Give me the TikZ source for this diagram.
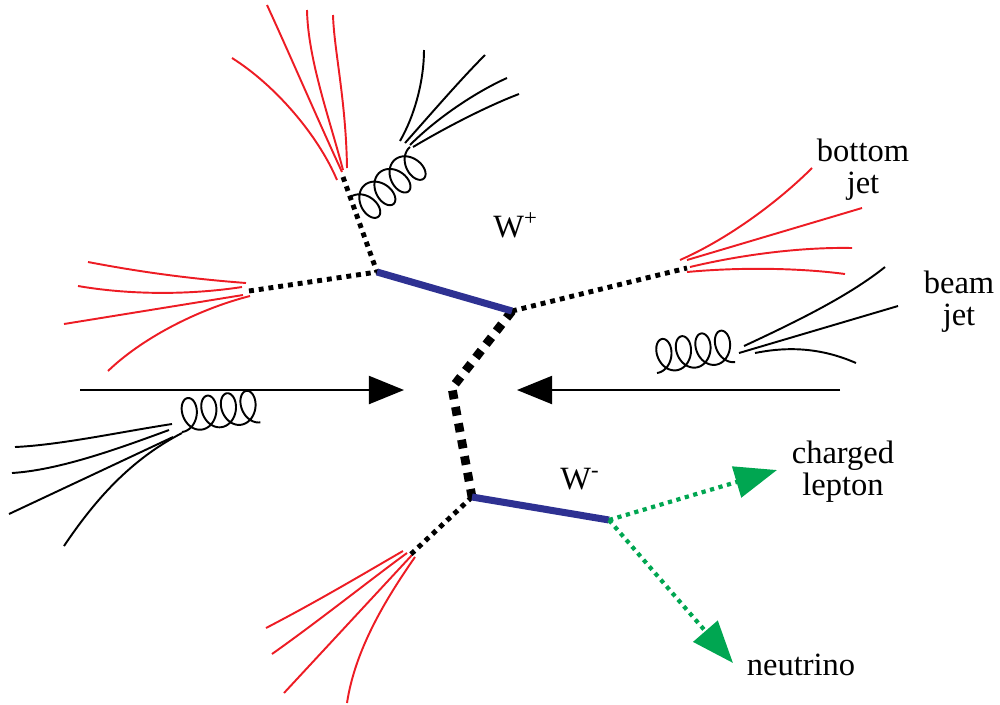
\documentclass[tikz,border=0pt]{standalone}
\usepackage{fontspec}
\setmainfont{Liberation Serif}
\usetikzlibrary{arrows.meta}
\definecolor{wblue}{RGB}{46,49,146}
\definecolor{jetred}{RGB}{237,28,36}
\definecolor{lepgreen}{RGB}{0,166,81}

\begin{document}
\begin{tikzpicture}[x=0.02cm,y=-0.02cm,
        redjet/.style={jetred,line width=1.1pt},
        blackjet/.style={black,line width=1.1pt},
        wline/.style={wblue,line width=4pt},
        quark/.style={line width=2.8pt,dash pattern=on 2.8pt off 2.8pt},
        exch/.style={line width=5pt,dash pattern=on 5pt off 4.5pt},
        lep/.style={lepgreen,line width=2.4pt,dash pattern=on 2.4pt off 2.6pt,-{Triangle[length=24pt,width=18pt]}},
        beam/.style={line width=1.1pt,-{Triangle[length=20pt,width=16pt]}},
        gluon/.pic={\draw[line width=1.1pt] plot[domain=-180:1260,samples=241,smooth,variable=\t]
            ({(\t+180)*0.0548-12*sin(\t)},{-16.5*cos(\t)-16.5});},
        lbl/.style={font=\fontsize{18.5}{18.2}\selectfont,align=center,inner sep=0pt}]
    \useasboundingbox (0,0) rectangle (1000,704);
    % vertices
    \coordinate (wpa) at (377,272);
    \coordinate (wpb) at (512,311);
    \coordinate (bend) at (452,388);
    \coordinate (wma) at (472,497);
    \coordinate (wmb) at (609,520);
    \coordinate (tjet) at (343,177);
    \coordinate (ljet) at (249,291);
    \coordinate (rjet) at (687,268);
    \coordinate (bjet) at (409,556);
    \coordinate (leptip) at (777,470);
    \coordinate (nutip) at (733,663);
    \coordinate (beamL) at (80,390);
    \coordinate (tipL) at (404,390);
    \coordinate (beamR) at (840,390);
    \coordinate (tipR) at (517,390);
    % jets
    \draw[redjet] (337,180) .. controls (318,135) and (275,85) .. (232,58);
    \draw[redjet] (342,172) .. controls (318,120) and (290,55) .. (267,5);
    \draw[redjet] (343,170) .. controls (330,120) and (308,60) .. (307,10);
    \draw[redjet] (347,168) .. controls (346,100) and (334,50) .. (333,15);
    \draw[blackjet] (400,141) .. controls (415,115) and (424,80) .. (424,50);
    \draw[blackjet] (405,143) .. controls (430,115) and (460,80) .. (485,55);
    \draw[blackjet] (410,145) .. controls (440,115) and (480,90) .. (507,78);
    \draw[blackjet] (413,147) .. controls (450,125) and (490,105) .. (519,94);
    \draw[redjet] (246,283) .. controls (180,278) and (130,270) .. (88,262);
    \draw[redjet] (242,287) .. controls (190,295) and (130,295) .. (78,286);
    \draw[redjet] (243,295) -- (64,324);
    \draw[redjet] (250,296) .. controls (195,310) and (140,340) .. (108,371);
    \draw[blackjet] (172,424) .. controls (120,432) and (60,445) .. (15,447);
    \draw[blackjet] (169,430) .. controls (120,448) and (60,470) .. (12,473);
    \draw[blackjet] (173,437) -- (9,514);
    \draw[blackjet] (182,433) .. controls (130,460) and (95,500) .. (64,546);
    \draw[redjet] (680,260) .. controls (730,238) and (780,200) .. (812,168);
    \draw[redjet] (687,260) -- (862,208);
    \draw[redjet] (690,267) .. controls (740,255) and (800,247) .. (852,248);
    \draw[redjet] (687,272) .. controls (740,267) and (800,268) .. (845,274);
    \draw[blackjet] (744,346) .. controls (800,320) and (850,295) .. (885,267);
    \draw[blackjet] (739,353) -- (898,306);
    \draw[blackjet] (755,353) .. controls (780,348) and (815,345) .. (856,363);
    \draw[redjet] (403,551) .. controls (370,570) and (320,600) .. (266,628);
    \draw[redjet] (407,553) .. controls (370,580) and (320,620) .. (272,654);
    \draw[redjet] (412,555) -- (284,693);
    \draw[redjet] (415,557) .. controls (385,600) and (355,650) .. (347,703);
    % gluons
    \path (410,147) pic[rotate=220] {gluon};
    \path (182,432) pic[rotate=7] {gluon};
    \path (657,373) pic[rotate=8] {gluon};
    % beams
    \draw[beam] (beamL) -- (tipL);
    \draw[beam] (beamR) -- (tipR);
    % quark lines
    \draw[quark] (tjet) -- (wpa);
    \draw[quark] (ljet) -- (wpa);
    \draw[quark] (wpb) -- (rjet);
    \draw[quark] (wma) -- (bjet);
    \draw[exch] (wpb) -- (bend) -- (wma);
    \draw[wline] (wpa) -- (wpb);
    \draw[wline] (wma) -- (wmb);
    \draw[lep] (wmb) -- (leptip);
    \draw[lep] (wmb) -- (nutip);
    % labels
    \node[lbl,anchor=base west] (wplus) at (493,237) {W\textsuperscript{+}};
    \node[lbl,anchor=base west] (wminus) at (560,489) {W\textsuperscript{-}};
    \node[lbl,anchor=base] (bottom) at (863,193) {bottom\\jet};
    \node[lbl,anchor=base] (beamjet) at (959,325) {beam\\jet};
    \node[lbl,anchor=base] (lepton) at (843,495) {charged\\lepton};
    \node[lbl,anchor=base] (nu) at (801,675) {neutrino};
\end{tikzpicture}
\end{document}
